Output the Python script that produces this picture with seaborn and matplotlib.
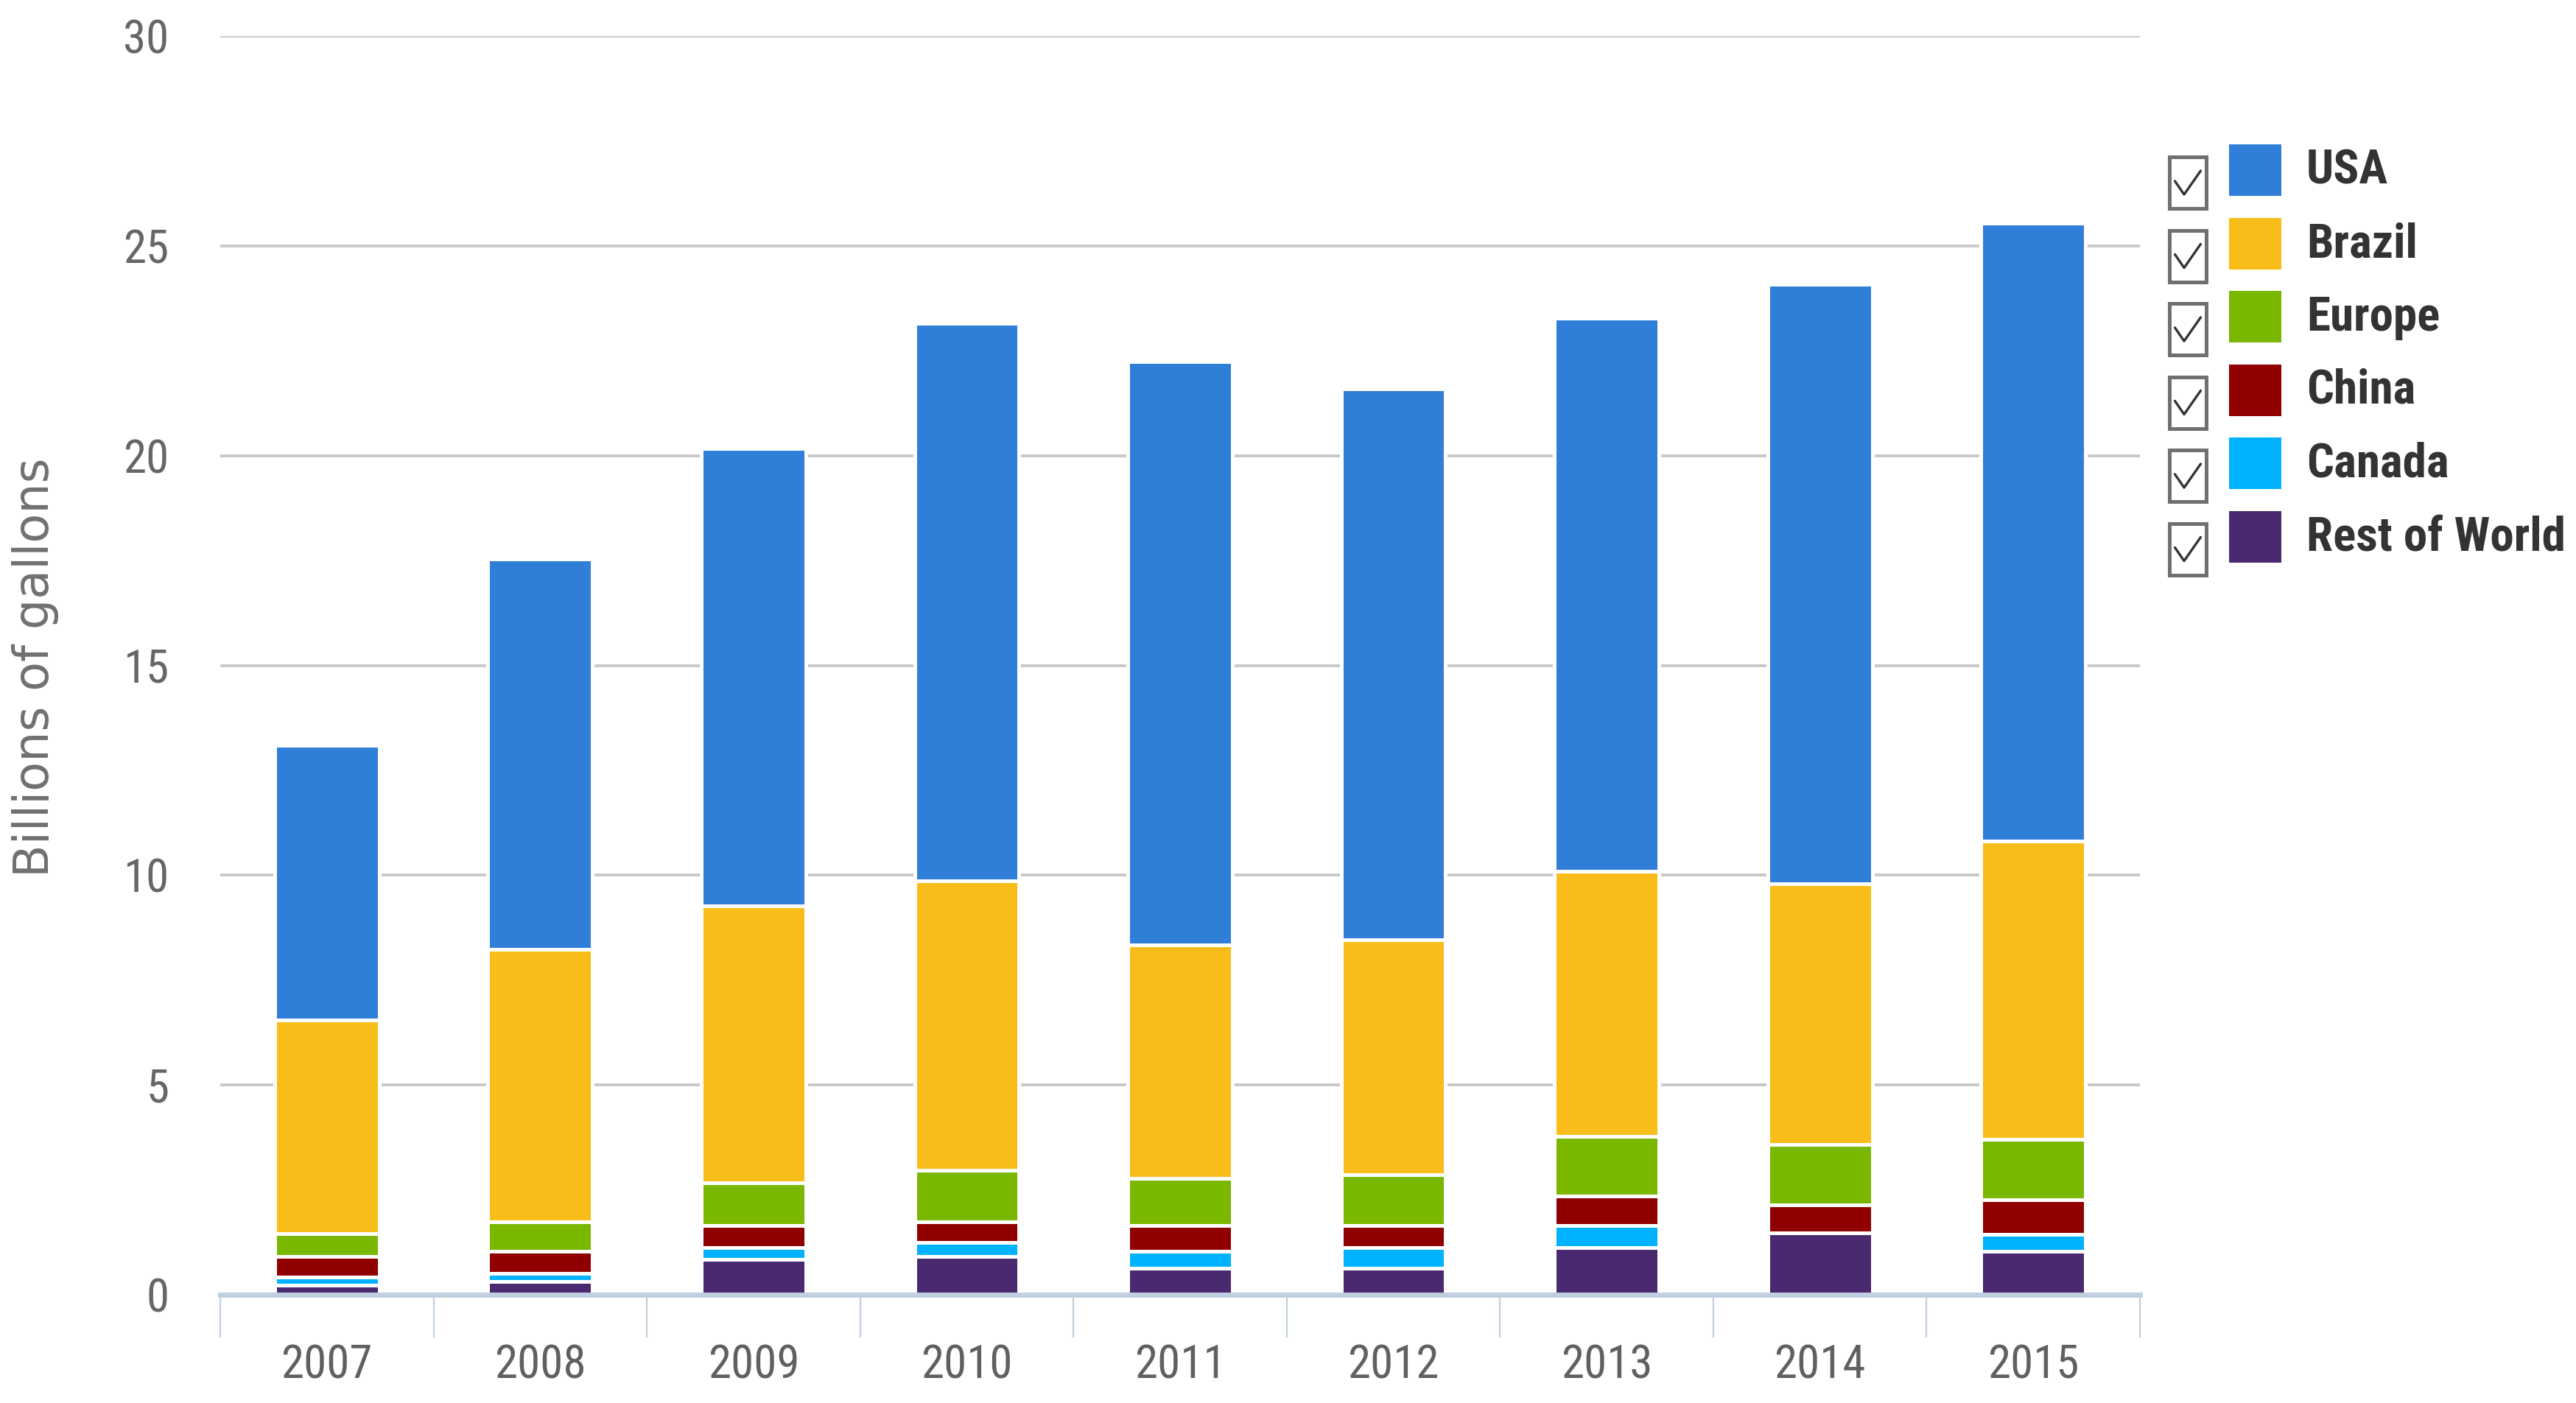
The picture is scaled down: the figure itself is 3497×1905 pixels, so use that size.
import numpy as np
import pandas as pd
import seaborn as sns
import matplotlib.pyplot as plt
import matplotlib.font_manager as fm
from matplotlib.patches import Rectangle
from matplotlib.lines import Line2D

years = ['2007', '2008', '2009', '2010', '2011', '2012', '2013', '2014', '2015']

# billions of gallons
usa = [6.55, 9.3, 10.9, 13.3, 13.9, 13.14, 13.17, 14.3, 14.73]
brazil = [5.1, 6.5, 6.6, 6.9, 5.57, 5.59, 6.32, 6.21, 7.11]
europe = [0.53, 0.7, 1.02, 1.22, 1.12, 1.22, 1.42, 1.43, 1.44]
china = [0.5, 0.53, 0.52, 0.49, 0.61, 0.52, 0.71, 0.68, 0.82]
canada = [0.2, 0.2, 0.29, 0.33, 0.41, 0.5, 0.52, 0.0, 0.4]
rest_of_world = [0.22, 0.31, 0.84, 0.92, 0.63, 0.63, 1.13, 1.47, 1.04]

regions = ['USA', 'Brazil', 'Europe', 'China', 'Canada', 'Rest of World']
colors = ['#2f7ed8', '#f9bd19', '#7ab800', '#910000', '#00b2ff', '#492970']

y_ticks = [0, 5, 10, 15, 20, 25, 30]

W, H = 3498, 1905


def narrow_font(bold=False):
    # look for a condensed face among the installed fonts
    prefs = ['liberation sans narrow', 'roboto condensed', 'open sans condensed',
             'noto sans condensed', 'dejavu sans condensed', 'condensed', 'narrow']
    best, best_rank = None, 99
    for f in fm.fontManager.ttflist:
        key = (f.name + ' ' + f.fname).lower().replace('-', ' ').replace('_', ' ')
        if 'italic' in key or 'oblique' in key or f.style != 'normal':
            continue
        is_bold = f.weight in ('bold', 700) or 'bold' in key
        if is_bold != bold:
            continue
        if 'semi' in key or 'extra' in key or 'light' in key or 'medium' in key:
            continue
        for rank, p in enumerate(prefs):
            if p in key and rank < best_rank:
                best, best_rank = f.fname, rank
    if best is None:
        return fm.FontProperties(family='DejaVu Sans',
                                 weight='bold' if bold else 'normal')
    return fm.FontProperties(fname=best)


sns.set_theme(
    style='white',
    rc={
        'figure.dpi': 200,
        'savefig.dpi': 200,
        'axes.edgecolor': '#c0d0e0',
    }
)
plt.rcParams['font.family'] = ['DejaVu Sans']

narrow = narrow_font()
narrow_bold = narrow_font(bold=True)

df = pd.DataFrame({
    'year': years,
    'USA': usa,
    'Brazil': brazil,
    'Europe': europe,
    'China': china,
    'Canada': canada,
    'Rest of World': rest_of_world,
})

fig = plt.figure(figsize=(W / 200, H / 200))
ax = fig.add_axes([299 / W, 1 - 1758 / H, (2905 - 299) / W, (1758 - 49) / H])

# stacked bars: draw running totals from the top segment down
for i, region in enumerate(regions):
    top = df[regions[i:]].sum(axis=1)
    sns.barplot(
        x=df['year'], y=top, color=colors[i], saturation=1,
        width=0.49, edgecolor='white', linewidth=1.8, ax=ax, zorder=3
    )

ax.set_xlim(-0.5, len(years) - 0.5)
ax.set_ylim(0, 30)
ax.set_xlabel('')
ax.set_ylabel('')

ax.set_yticks(y_ticks)
ax.set_yticklabels([str(t) for t in y_ticks])
ax.yaxis.grid(True, color='#c8c8c8', linewidth=1.4, zorder=0)
ax.set_axisbelow(True)
ax.tick_params(axis='y', length=0, pad=25, labelcolor='#666666')

ax.set_xticks(range(len(years)))
ax.set_xticklabels(years)
ax.set_xticks(np.arange(-0.5, len(years), 1.0), minor=True)
ax.tick_params(axis='x', which='major', length=0, pad=24, labelcolor='#606060')
ax.tick_params(axis='x', which='minor', length=21, width=0.8,
               color='#c0d0e0', direction='out', bottom=True)

for lab in ax.get_xticklabels() + ax.get_yticklabels():
    lab.set_fontproperties(narrow)
    lab.set_fontsize(22.7)

for side in ['left', 'top', 'right']:
    ax.spines[side].set_visible(False)
ax.spines['bottom'].set_linewidth(2.5)
ax.spines['bottom'].set_color('#c0d0e0')
ax.spines['bottom'].set_zorder(4)

fig.text(48 / W, 1 - 906 / H, 'Billions of gallons', rotation=90,
         ha='center', va='center', fontsize=23.5, color='#707070',
         family='DejaVu Sans')

# legend with checkboxes
row_gap = 99.5
for i, region in enumerate(regions):
    y0 = 196 + i * row_gap
    # checkbox
    bx, by, bw, bh = 2945, y0 + 17, 50, 70
    fig.add_artist(Rectangle(
        (bx / W, 1 - (by + bh) / H), bw / W, bh / H,
        transform=fig.transFigure, facecolor='white',
        edgecolor='#707070', linewidth=1.8
    ))
    cx = [bx + 0.15 * bw, bx + 0.40 * bw, bx + 0.85 * bw]
    cy = [by + 0.47 * bh, by + 0.73 * bh, by + 0.27 * bh]
    fig.add_artist(Line2D(
        [x / W for x in cx], [1 - y / H for y in cy],
        transform=fig.transFigure, color='#333333', linewidth=1.2
    ))
    # colour swatch
    fig.add_artist(Rectangle(
        (3026 / W, 1 - (y0 + 70) / H), 71 / W, 70 / H,
        transform=fig.transFigure, facecolor=colors[i], edgecolor='none'
    ))
    t = fig.text(3131 / W, 1 - (y0 + 36) / H, region, ha='left', va='center',
                 color='#333333', fontproperties=narrow_bold)
    t.set_fontsize(23.4)

plt.savefig('out.png', dpi=200, facecolor='white')
